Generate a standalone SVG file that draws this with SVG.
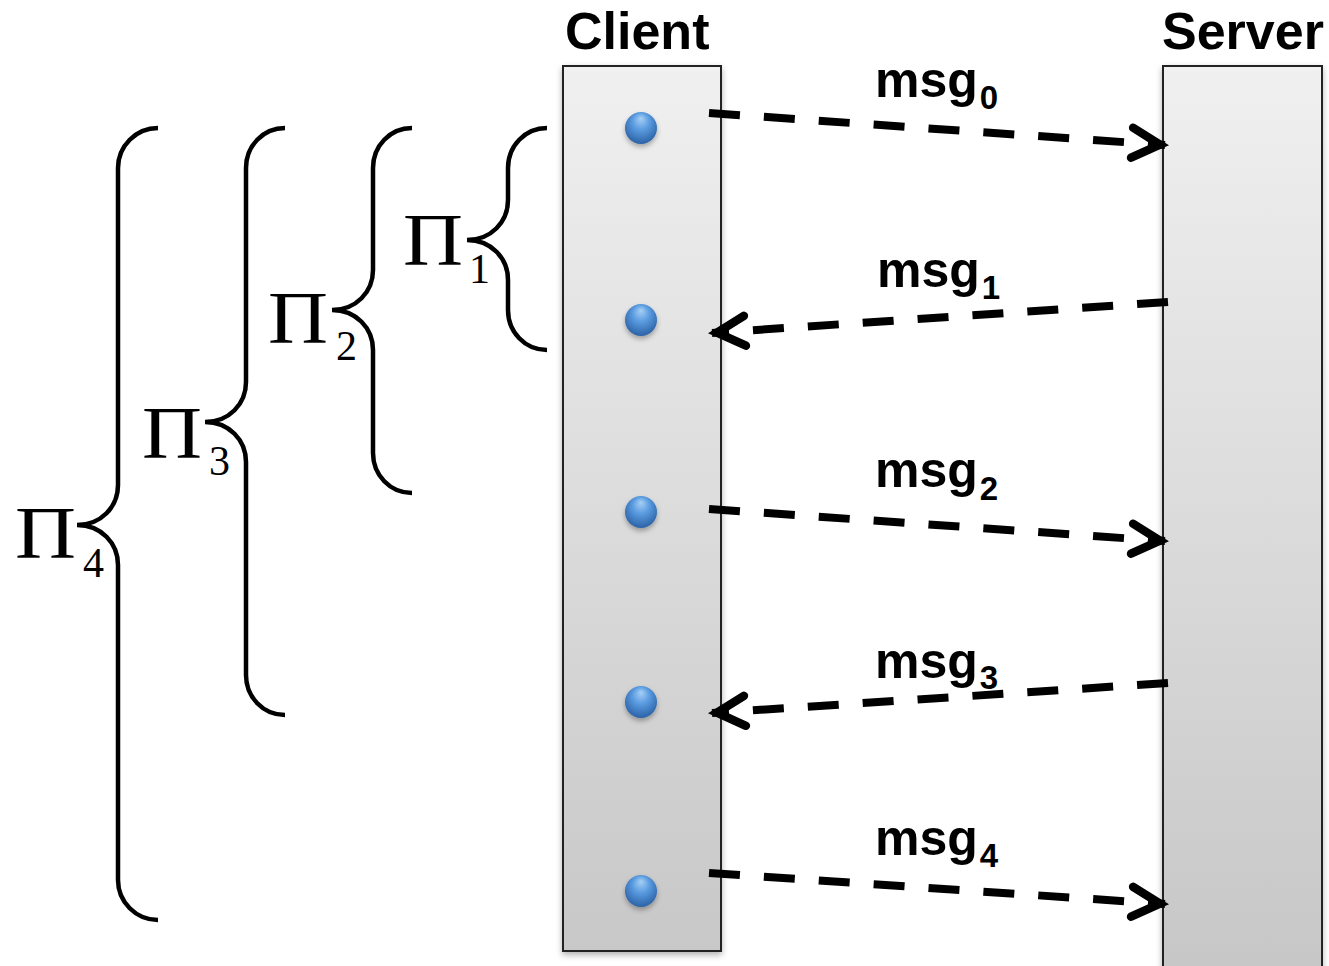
<svg xmlns="http://www.w3.org/2000/svg" width="1329" height="966" viewBox="0 0 1329 966">
<style>
.title{font-family:"Liberation Sans",Arial,sans-serif;font-weight:bold;font-size:52px;fill:#000}
.msg{font-family:"Liberation Sans",Arial,sans-serif;font-weight:bold;font-size:50px;fill:#000}
.msub{font-size:33px}
.pi{font-family:"Liberation Serif","Times New Roman",serif;font-size:73px;fill:#000}
.sub{font-family:"Liberation Serif","Times New Roman",serif;font-size:42px;fill:#000}
.brace{fill:none;stroke:#000;stroke-width:4.5}
.box{fill:url(#boxGrad);stroke:#222;stroke-width:2;filter:url(#shadow)}
.dot{fill:url(#dotGrad);filter:url(#dotShadow)}
.conn{fill:none;stroke:#000;stroke-width:8;stroke-dasharray:31 24}
</style>
<defs>
<linearGradient id="boxGrad" gradientUnits="userSpaceOnUse" x1="0" y1="66" x2="0" y2="966">
<stop offset="0" stop-color="#f0f0f0"/>
<stop offset="1" stop-color="#c7c7c7"/>
</linearGradient>
<radialGradient id="dotGrad" cx="0.5" cy="0.4" r="0.6" fx="0.5" fy="0.2">
<stop offset="0" stop-color="#a6d0f5"/>
<stop offset="0.45" stop-color="#5a9be0"/>
<stop offset="1" stop-color="#2c62a6"/>
</radialGradient>
<filter id="shadow" x="-10%" y="-5%" width="120%" height="110%">
<feDropShadow dx="0" dy="3" stdDeviation="3" flood-color="#000" flood-opacity="0.3"/>
</filter>
<filter id="dotShadow" x="-50%" y="-50%" width="200%" height="200%">
<feDropShadow dx="0" dy="3" stdDeviation="2.5" flood-color="#000" flood-opacity="0.3"/>
</filter>
<marker id="ah" markerUnits="userSpaceOnUse" viewBox="-40 -25 50 50" markerWidth="50" markerHeight="50" refX="0" refY="0" orient="auto" overflow="visible">
<path d="M-33,-15 L-5,0 L-33,15" fill="none" stroke="#000" stroke-width="8.5" stroke-linecap="round" stroke-linejoin="miter"/>
</marker>
</defs>
<rect width="1329" height="966" fill="#fff"/>

<g id="client">
<rect class="box" x="563" y="66" width="158" height="885"/>
<text class="title" x="565" y="49">Client</text>
<circle class="dot" cx="641" cy="128" r="16"/>
<circle class="dot" cx="641" cy="320" r="16"/>
<circle class="dot" cx="641" cy="512" r="16"/>
<circle class="dot" cx="641" cy="702" r="16"/>
<circle class="dot" cx="641" cy="891" r="16"/>
</g>

<g id="server">
<rect class="box" x="1163" y="66" width="159" height="930"/>
<text class="title" x="1162" y="49">Server</text>
</g>

<g id="pi1">
<path class="brace" d="M547,128 C525,128 508,146 508,168 L508,200 C508,222 491,240 467,240 C491,240 508,258 508,280 L508,310 C508,332 525,350 547,350"/>
<text class="pi" x="403" y="265" textLength="60" lengthAdjust="spacingAndGlyphs">Π</text>
<text class="sub" x="469" y="283">1</text>
</g>

<g id="pi2">
<path class="brace" d="M412,128 C390,128 373,146 373,168 L373,270 C373,292 356,310 332,310 C356,310 373,328 373,350 L373,453 C373,475 390,493 412,493"/>
<text class="pi" x="268" y="343" textLength="60" lengthAdjust="spacingAndGlyphs">Π</text>
<text class="sub" x="336" y="360">2</text>
</g>

<g id="pi3">
<path class="brace" d="M285,128 C263,128 246,146 246,168 L246,382 C246,404 229,422 205,422 C229,422 246,440 246,462 L246,675 C246,697 263,715 285,715"/>
<text class="pi" x="142" y="458" textLength="60" lengthAdjust="spacingAndGlyphs">Π</text>
<text class="sub" x="209" y="475">3</text>
</g>

<g id="pi4">
<path class="brace" d="M158,128 C136,128 118,146 118,168 L118,485 C118,507 101,525 77,525 C101,525 118,543 118,565 L118,880 C118,902 136,920 158,920"/>
<text class="pi" x="15" y="558" textLength="61" lengthAdjust="spacingAndGlyphs">Π</text>
<text class="sub" x="83" y="577">4</text>
</g>

<g id="connectors">
<path class="conn" d="M709,113 L1165,145" marker-end="url(#ah)"/>
<path class="conn" d="M1168,302 L712,333" marker-end="url(#ah)"/>
<path class="conn" d="M709,509 L1165,541" marker-end="url(#ah)"/>
<path class="conn" d="M1168,683 L712,713" marker-end="url(#ah)"/>
<path class="conn" d="M709,873 L1165,904" marker-end="url(#ah)"/>
</g>

<g id="labels">
<text class="msg" x="875" y="97">msg<tspan class="msub" dx="2" dy="12">0</tspan></text>
<text class="msg" x="877" y="287">msg<tspan class="msub" dx="2" dy="12">1</tspan></text>
<text class="msg" x="875" y="487">msg<tspan class="msub" dx="2" dy="13">2</tspan></text>
<text class="msg" x="875" y="678">msg<tspan class="msub" dx="2" dy="11">3</tspan></text>
<text class="msg" x="875" y="855">msg<tspan class="msub" dx="2" dy="12">4</tspan></text>
</g>
</svg>
